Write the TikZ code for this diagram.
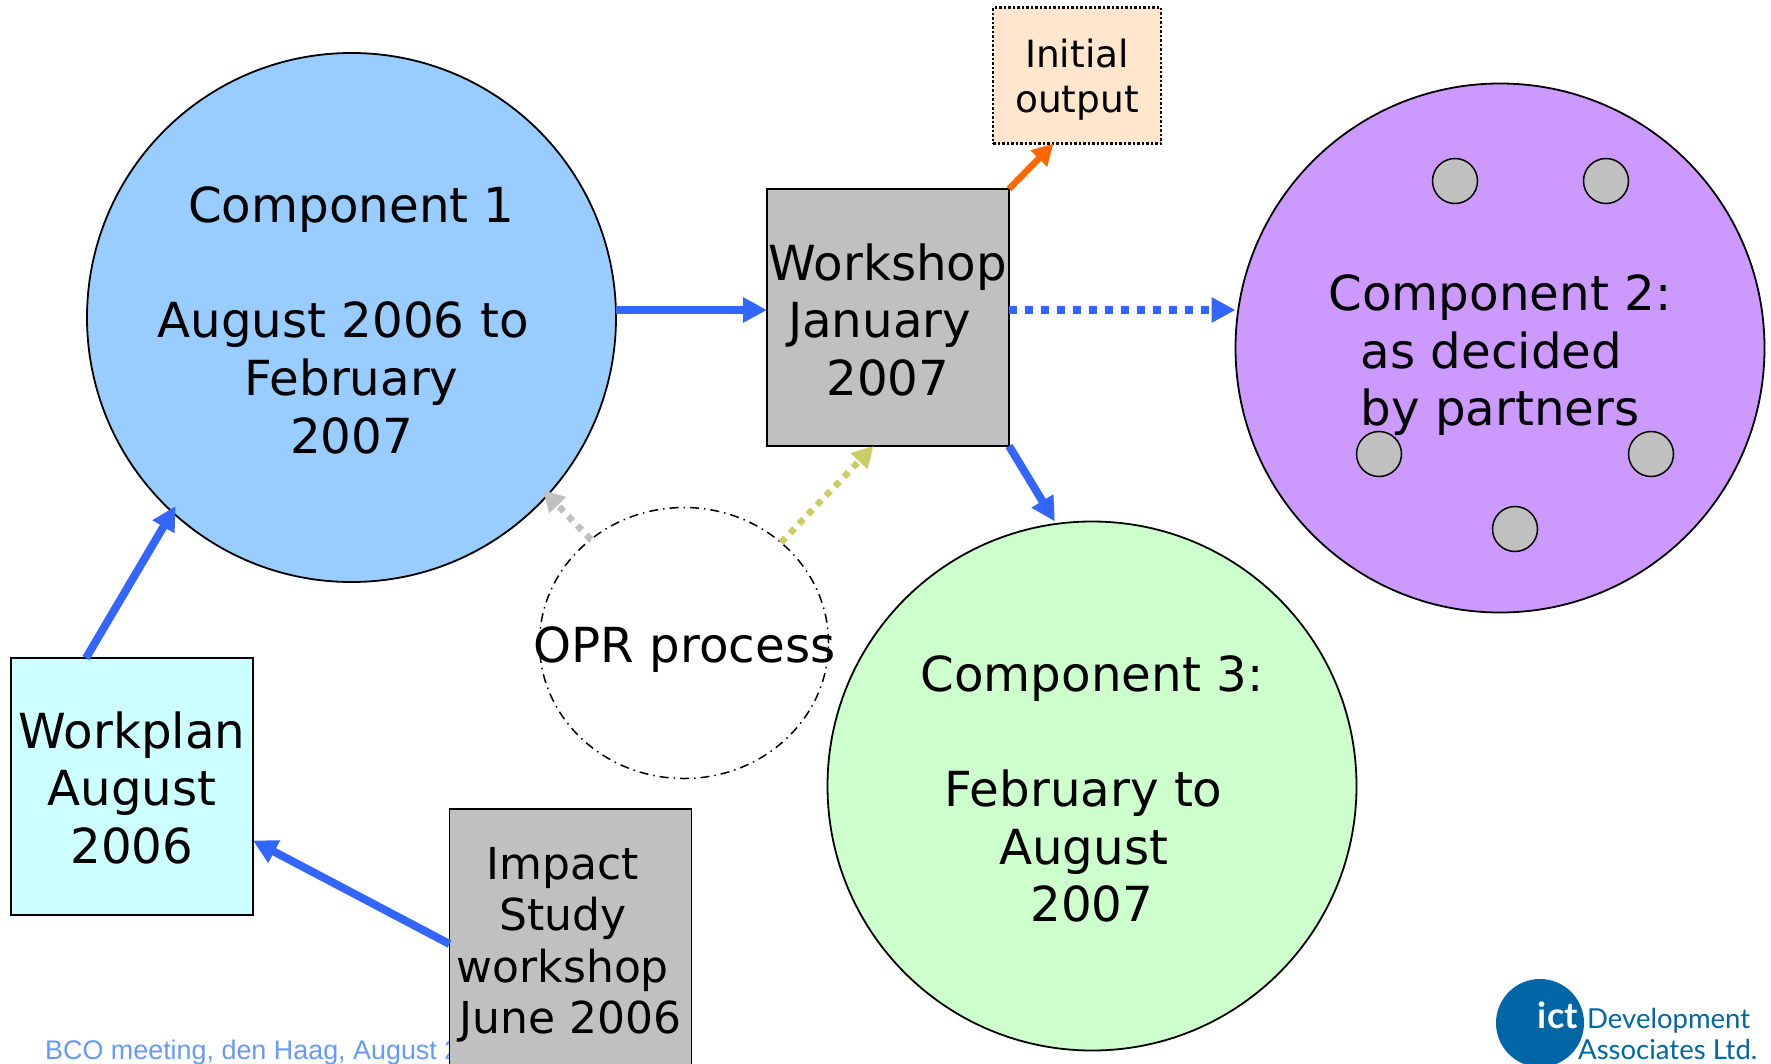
\documentclass[tikz,border=0pt]{standalone}
\usepackage{fontspec}
\setmainfont{DejaVu Sans}
\newfontfamily\footf{Liberation Sans}
\newfontfamily\logof{Lato}
\usetikzlibrary{arrows.meta,shapes.geometric,calc}
\definecolor{cblue}{HTML}{99CCFF}
\definecolor{cpurple}{HTML}{CC99FF}
\definecolor{cgreen}{HTML}{CCFFCC}
\definecolor{ccyan}{HTML}{CCFFFF}
\definecolor{cpeach}{HTML}{FFE6CC}
\definecolor{cgrey}{HTML}{C0C0C0}
\definecolor{aline}{HTML}{3366FF}
\definecolor{aorange}{HTML}{FF6600}
\definecolor{aolive}{HTML}{CCCC66}
\definecolor{footc}{HTML}{6699FF}
\definecolor{logoc}{HTML}{0066A6}
\newcommand{\tsp}{\kern0.35em}
\newcommand{\topgap}[1]{\rule{0pt}{#1pt}}
\tikzset{
  big/.style={font=\fontsize{48.3}{57.6}\selectfont,align=center,text=black},
  bigcirc/.style={circle,draw=black,line width=1.8pt,minimum size=529pt,inner sep=0pt,outer sep=0pt,big},
  bigbox/.style={rectangle,draw=black,line width=1.8pt,minimum width=242pt,minimum height=257pt,inner sep=0pt,outer sep=0pt,big},
  dotc/.style={circle,draw=black,line width=1.5pt,fill=cgrey,minimum size=45pt,inner sep=0pt,outer sep=0pt},
  conn/.style={line width=6.5pt,-{Triangle[length=21pt,width=22pt]}},
  hconn/.style={line width=8pt,-{Triangle[length=24pt,width=24pt]}},
  dotconn/.style={conn,dash pattern=on 6.5pt off 6.5pt},
  hdotconn/.style={hconn,dash pattern=on 8pt off 8pt},
  logotxt/.style={anchor=base west,inner sep=0pt,text=logoc,font=\logof\fontsize{27.5}{27.5}\selectfont}
}
\begin{document}
\begin{tikzpicture}[x=1pt,y=-1pt]
\useasboundingbox (0,0) rectangle (1771,1063);
\clip (0,0) rectangle (1771,1063);
\node[anchor=base west,inner sep=0pt,text=footc,font=\footf\fontsize{26.9}{26.9}\selectfont] (foot) at (45,1059) {BCO meeting, den Haag, August 2};
\node[bigcirc,fill=cblue] (c1) at (351.5,317.5) {\topgap{41.5}Component 1\\[57.6pt]August 2006 to\tsp\\February\\2007};
\node[bigcirc,fill=cpurple] (c2) at (1500,348) {\topgap{50.5}Component 2:\\as decided\tsp\\by partners};
\node[bigcirc,fill=cgreen] (c3) at (1092,786) {\topgap{41.5}Component 3:\\[57.6pt]February to\tsp\\August\tsp\\2007};
\node[ellipse,draw=black,line width=1.5pt,dash pattern=on 9pt off 5pt on 1.5pt off 5pt,minimum width=289pt,minimum height=271pt,inner sep=0pt,outer sep=0pt] (opr) at (684,643) {};
\node[big,inner sep=0pt] (oprt) at (684.5,649.5) {OPR process};
\node[bigbox,fill=cgrey] (ws) at (888,317.5) {\topgap{41.5}Workshop\\January\tsp\\2007};
\node[bigbox,fill=ccyan] (wp) at (132,786.5) {\topgap{39}Workplan\\August\\2006};
\node[rectangle,draw=black,line width=1.8pt,fill=cgrey,minimum width=242pt,minimum height=266pt,inner sep=0pt,outer sep=0pt,font=\fontsize{44}{51.4}\selectfont,align=center] (imp) at (570.5,942) {\topgap{38}Impact\tsp\\Study\tsp\\workshop\tsp\\June 2006};
\node[rectangle,draw=black,fill=cpeach,line width=2.5pt,dash pattern=on 2.5pt off 2pt,minimum width=168pt,minimum height=136pt,inner sep=0pt,outer sep=0pt,font=\fontsize{37.5}{45}\selectfont,align=center] (io) at (1077,75.5) {\topgap{37.5}Initial\\output};
\node[dotc] (d1) at (1455,181) {};
\node[dotc] (d2) at (1606,181) {};
\node[dotc] (d3) at (1379,454) {};
\node[dotc] (d4) at (1651,454) {};
\node[dotc] (d5) at (1515,529) {};
\coordinate (wsl) at ([yshift=7.5pt]ws.west);
\draw[hconn,aline] (wsl -| c1.east) -- (wsl);
\coordinate (wsr) at ([yshift=7.5pt]ws.east);
\draw[hdotconn,aline] (wsr) -- (wsr -| c2.west);
\draw[conn,aorange] (ws.north east) -- ($(io.south west)!0.36!(io.south east)$);
\draw[hconn,aline] (ws.south east) -- ($(c3.center)!1.01!(c3.98.3)$);
\coordinate (wpt) at ([xshift=75pt]wp.north west);
\draw[hconn,aline] (wpt) -- ($(c1.center)!0.975!(c1.227.6)$);
\coordinate (impl) at ([yshift=-2pt]imp.west);
\coordinate (wpr) at ([yshift=-54pt]wp.east);
\draw[hconn,aline] (impl) -- (wpr);
\draw[dotconn,cgrey] (opr.132.4) -- ($(c1.center)!0.975!(c1.-42.6)$);
\draw[dotconn,aolive] (opr.46.7) -- ($(ws.south west)!0.44!(ws.south east)$);
\node[circle,fill=logoc,minimum size=88pt,inner sep=0pt] (lc) at (1540,1023) {};
\node[anchor=base east,inner sep=0pt,text=white,font=\logof\bfseries\fontsize{36}{36}\selectfont] (lt) at (1578,1028) {ict};
\node[logotxt] (l1) at (1587,1028) {Development};
\node[logotxt] (l2) at (1578,1059) {Associates Ltd.};
\end{tikzpicture}
\end{document}
